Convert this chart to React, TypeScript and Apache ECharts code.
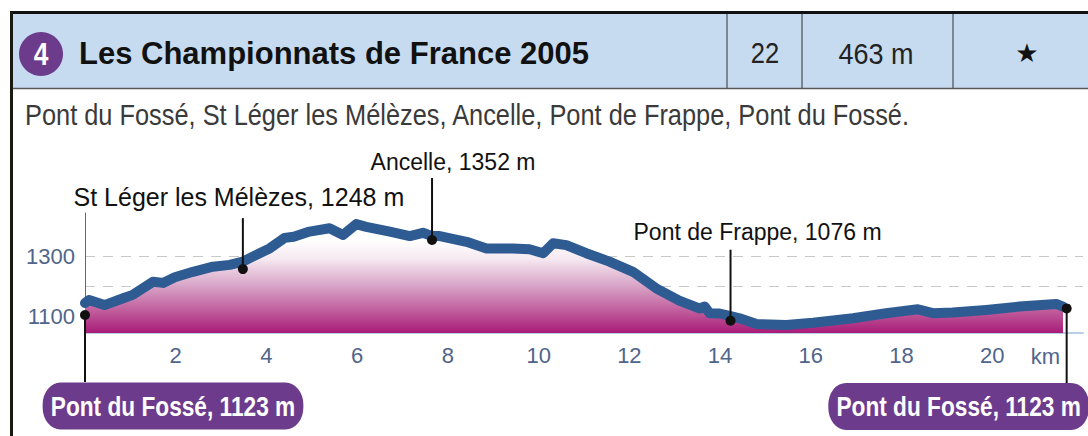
import React, { useEffect, useRef } from "react";
import * as echarts from "echarts";

// ---- Data ----
const profileKm = [0, 0.09, 0.43, 0.84, 1.05, 1.5, 1.72, 1.98, 2.38, 2.82, 3.19, 3.48, 3.85, 4.07, 4.4, 4.6, 4.95, 5.39, 5.69, 5.98, 6.2, 6.72, 7.16, 7.45, 7.65, 7.82, 8.41, 8.85, 9.43, 9.8, 10.1, 10.32, 10.61, 11.05, 11.56, 12.08, 12.59, 13.1, 13.54, 13.66, 13.77, 13.99, 14.3, 14.43, 14.8, 15.46, 16.05, 16.93, 17.66, 18.36, 18.69, 19.13, 19.87, 20.6, 21.41, 21.56];
const profileElev = [1145, 1155, 1138, 1161, 1172, 1216, 1212, 1231, 1249, 1266, 1272, 1283, 1311, 1327, 1362, 1366, 1383, 1394, 1372, 1408, 1399, 1383, 1368, 1379, 1368, 1368, 1349, 1327, 1327, 1324, 1311, 1344, 1338, 1311, 1283, 1249, 1194, 1153, 1127, 1133, 1111, 1110, 1099, 1094, 1075, 1072, 1079, 1094, 1111, 1124, 1111, 1113, 1122, 1133, 1142, 1133];

const placeKm = [0, 3.48, 7.65, 14.23, 21.64];
const placeElev = [1105, 1258, 1355, 1086, 1127];
const placeLabels = [
  "Pont du Fossé, 1123 m",
  "St Léger les Mélèzes, 1248 m",
  "Ancelle, 1352 m",
  "Pont de Frappe, 1076 m",
  "Pont du Fossé, 1123 m",
];

const xTicks = [2, 4, 6, 8, 10, 12, 14, 16, 18, 20];
const yLabelTicks = [1100, 1300];
const yGridTicks = [1200, 1300];

const titleNumber = "4";
const titleText = "Les Championnats de France 2005";
const headerCells = ["22", "463 m", "★"];
const subtitle = "Pont du Fossé, St Léger les Mélèzes, Ancelle, Pont de Frappe, Pont du Fossé.";

// ---- Styles (positions relative to the dots) ----
const placeStyles = [
  { lineDy: 67, dx: 88, dy: 91, box: true, fontSize: 28 },
  { lineDy: -51, dx: -4, dy: -72, box: false, fontSize: 25 },
  { lineDy: -62, dx: 21, dy: -78, box: false, fontSize: 23 },
  { lineDy: -71, dx: 27, dy: -89, box: false, fontSize: 23 },
  { lineDy: 75, dx: -108, dy: 98, box: true, fontSize: 28 },
];

const PURPLE = "#6d3b8c";
const SANS = "'Liberation Sans', Arial, sans-serif";
const AXIS_COLOR = "#50658b";

export default function App() {
  const ref = useRef<HTMLDivElement>(null);
  useEffect(() => {
    if (!ref.current) return;
    const chart = echarts.init(ref.current, undefined, { renderer: "svg" });
    const lineData = profileKm.map((k, i) => [k, profileElev[i]]);
    const placeData = placeKm.map((k, i) => [k, placeElev[i], i]);

    chart.setOption({
      animation: false,
      grid: { left: 85, right: 5, top: 213, bottom: 103, containLabel: false },
      xAxis: {
        type: "value",
        min: 0,
        max: 22,
        name: "km",
        nameLocation: "end",
        nameGap: -23,
        nameTextStyle: { color: AXIS_COLOR, fontSize: 22, fontFamily: SANS, align: "right", verticalAlign: "top", padding: [12, 0, 0, 0] },
        axisLine: { show: true, lineStyle: { color: "#b9cfe6", width: 2 } },
        axisTick: { show: true, inside: true, length: 6, customValues: xTicks, lineStyle: { color: "#6a1d5a", width: 1.5 } },
        axisLabel: { show: true, customValues: xTicks, margin: 11, color: AXIS_COLOR, fontSize: 22, fontFamily: SANS },
        splitLine: { show: false },
      },
      yAxis: {
        type: "value",
        min: 1045,
        max: 1445,
        offset: 2,
        axisLine: { show: true, lineStyle: { color: "#4d6b9e", width: 1 } },
        axisTick: { show: false, customValues: yGridTicks },
        axisLabel: {
          show: true,
          customValues: yLabelTicks,
          margin: 8,
          color: AXIS_COLOR,
          fontSize: 22,
          fontFamily: SANS,
          formatter: (v: number) => String(v),
        },
        splitLine: { show: true, lineStyle: { color: "#c8c8c8", type: [10, 8], width: 1 } },
      },
      series: [
        {
          type: "line",
          data: lineData,
          symbol: "none",
          smooth: false,
          lineStyle: { color: "#2f5b93", width: 10, join: "round", cap: "round" },
          areaStyle: {
            origin: "start",
            opacity: 1,
            color: {
              type: "linear",
              global: true,
              x: 0, y: 240, x2: 0, y2: 333,
              colorStops: [
                { offset: 0, color: "#ffffff" },
                { offset: 0.2, color: "#f6e9f1" },
                { offset: 0.5, color: "#d7a2c6" },
                { offset: 0.8, color: "#bd5396" },
                { offset: 1, color: "#a81b78" },
              ],
            },
          },
          z: 2,
        },
        {
          type: "custom",
          coordinateSystem: "cartesian2d",
          clip: false,
          data: placeData,
          z: 10,
          renderItem: (params: any, api: any) => {
            const i = api.value(2);
            const p = api.coord([api.value(0), api.value(1)]);
            const st = placeStyles[i];
            const textStyle: any = st.box
              ? {
                  text: placeLabels[i],
                  fill: "#ffffff",
                  fontSize: st.fontSize,
                  fontWeight: "bold",
                  fontFamily: SANS,
                  align: "center",
                  verticalAlign: "middle",
                  backgroundColor: PURPLE,
                  borderRadius: 22,
                  padding: [7, 10, 7, 10],
                  lineHeight: 33,
                }
              : {
                  text: placeLabels[i],
                  fill: "#111111",
                  fontSize: st.fontSize,
                  fontFamily: SANS,
                  align: "center",
                  verticalAlign: "middle",
                };
            return {
              type: "group",
              children: [
                { type: "line", shape: { x1: p[0], y1: p[1], x2: p[0], y2: p[1] + st.lineDy }, style: { stroke: "#111111", lineWidth: 2 } },
                { type: "circle", shape: { cx: p[0], cy: p[1], r: 5 }, style: { fill: "#111111" } },
                { type: "text", x: p[0] + st.dx, y: p[1] + st.dy, scaleX: st.box ? 0.81 : 1, style: textStyle },
              ],
            };
          },
        },
      ],
      graphic: [
        { type: "rect", shape: { x: 13, y: 14, width: 1075, height: 74 }, style: { fill: "#c6dbef" }, z: 1 },
        { type: "rect", shape: { x: 10, y: 11, width: 1078, height: 3 }, style: { fill: "#111111" }, z: 2 },
        { type: "rect", shape: { x: 10, y: 11, width: 3, height: 425 }, style: { fill: "#1a1a10" }, z: 2 },
        { type: "line", shape: { x1: 13, y1: 88.5, x2: 1088, y2: 88.5 }, style: { stroke: "#5a5a5a", lineWidth: 1.5 }, z: 2 },
        { type: "line", shape: { x1: 727, y1: 14, x2: 727, y2: 88 }, style: { stroke: "#333333", lineWidth: 1 }, z: 2 },
        { type: "line", shape: { x1: 802, y1: 14, x2: 802, y2: 88 }, style: { stroke: "#333333", lineWidth: 1 }, z: 2 },
        { type: "line", shape: { x1: 953, y1: 14, x2: 953, y2: 88 }, style: { stroke: "#333333", lineWidth: 1 }, z: 2 },
        { type: "circle", shape: { cx: 41, cy: 54, r: 22 }, style: { fill: PURPLE }, z: 3 },
        { type: "text", x: 41, y: 54, scaleX: 0.85, style: { text: titleNumber, fill: "#ffffff", fontSize: 31, fontWeight: "bold", fontFamily: SANS, align: "center", verticalAlign: "middle" }, z: 4 },
        { type: "text", x: 79, y: 53, style: { text: titleText, fill: "#111111", fontSize: 31, fontWeight: "bold", fontFamily: SANS, align: "left", verticalAlign: "middle" }, z: 4 },
        { type: "text", x: 765, y: 53, scaleX: 0.85, style: { text: headerCells[0], fill: "#222222", fontSize: 30, fontFamily: SANS, align: "center", verticalAlign: "middle" }, z: 4 },
        { type: "text", x: 876, y: 53, scaleX: 0.9, style: { text: headerCells[1], fill: "#222222", fontSize: 30, fontFamily: SANS, align: "center", verticalAlign: "middle" }, z: 4 },
        { type: "text", x: 1027, y: 53, style: { text: headerCells[2], fill: "#111111", fontSize: 26, fontFamily: "'DejaVu Sans', sans-serif", align: "center", verticalAlign: "middle" }, z: 4 },
        { type: "text", x: 25, y: 115, scaleX: 0.875, style: { text: subtitle, fill: "#3a3a3a", fontSize: 29, fontFamily: SANS, align: "left", verticalAlign: "middle" }, z: 4 },
      ],
    });
    return () => chart.dispose();
  }, []);
  return (
    <div
      ref={ref}
      style={{ position: "absolute", left: 0, top: 0, width: 1088, height: 436, background: "#ffffff" }}
    />
  );
}
